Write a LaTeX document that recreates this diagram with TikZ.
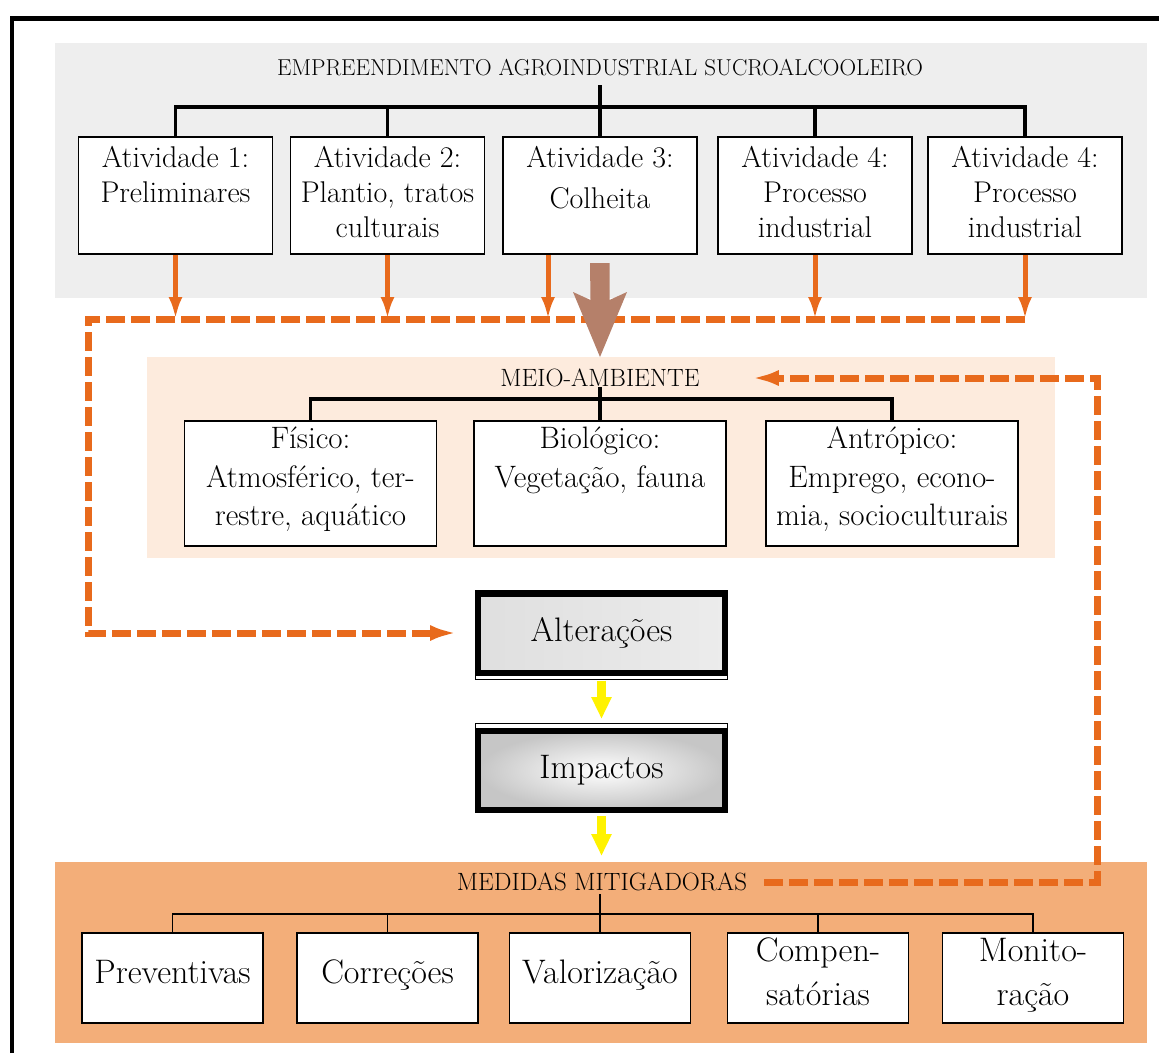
\documentclass[tikz,border=0pt]{standalone}
\usepackage{fontspec}
\usetikzlibrary{arrows.meta}
\definecolor{orng}{RGB}{232,106,28}
\definecolor{panelgray}{RGB}{238,238,238}
\definecolor{peach}{RGB}{253,235,221}
\definecolor{salmon}{RGB}{243,174,121}
\definecolor{brownarrow}{RGB}{181,128,106}
\begin{document}
\begin{tikzpicture}[x=1pt,y=-1pt,
  box/.style={draw=black,line width=1.6pt,fill=white,inner sep=0pt,align=center},
  topbox/.style={box,minimum width=194pt,minimum height=117pt,text depth=8pt,font=\fontsize{30}{35}\selectfont},
  meiobox/.style={box,minimum width=252pt,minimum height=125pt,text depth=14pt,font=\fontsize{31}{38.5}\selectfont},
  medbox/.style={box,minimum width=181pt,minimum height=90pt,text depth=13pt,font=\fontsize{34}{44}\selectfont},
  ttl/.style={inner sep=0pt,font=\fontsize{25}{29}\selectfont},
  altbox/.style={draw=black,line width=6pt,inner sep=0pt,minimum width=247pt,minimum height=79pt,font=\fontsize{34}{40}\selectfont},
  tree/.style={line width=3.5pt},
  thintree/.style={line width=1.8pt},
  oarrow/.style={draw=orng,line width=5pt,-{Latex[length=22pt,width=14pt]}},
  odash/.style={draw=orng,line width=7pt,dash pattern=on 19pt off 6pt,line join=miter},
  yarrow/.style={draw=yellow,line width=9pt,-{Triangle[length=22pt,width=19pt]}}
]
\useasboundingbox (0,0) rectangle (1159,1053);
% panels
\fill[panelgray] (55,43) rectangle (1147,298);
\fill[peach] (147,357) rectangle (1055,558);
\fill[salmon] (55,862) rectangle (1147,1043);
% frame
\draw[line width=4.5pt,line join=miter] (11.75,1053) -- (11.75,18.5) -- (1159,18.5);

% titles
\node[ttl,font=\fontsize{23}{27}\selectfont] (etitle) at (600,68) {EMPREENDIMENTO AGROINDUSTRIAL SUCROALCOOLEIRO};
\node[ttl] (mtitle) at (600,378) {MEIO-AMBIENTE};
\node[ttl] (dtitle) at (602,882) {MEDIDAS MITIGADORAS};

% top boxes
\node[topbox] (b1) at (175.5,195.5) {Atividade 1:\\Preliminares\\\phantom{X}};
\node[topbox] (b2) at (387.5,195.5) {Atividade 2:\\Plantio, tratos\\culturais};
\node[topbox] (b3) at (600,195.5) {Atividade 3:\\[6pt]Colheita\\[-6pt]\phantom{X}};
\node[topbox] (b4) at (815,195.5) {Atividade 4:\\Processo\\industrial};
\node[topbox] (b5) at (1025,195.5) {Atividade 4:\\Processo\\industrial};

% meio boxes
\node[meiobox] (fi) at (310.5,483.5) {Físico:\\Atmosférico, ter-\\restre, aquático};
\node[meiobox] (bi) at (600,483.5) {Biológico:\\Vegetação, fauna\\\phantom{X}};
\node[meiobox] (an) at (892,483.5) {Antrópico:\\Emprego, econo-\\mia, socioculturais};

% medidas boxes
\node[medbox] (pr) at (172.5,978) {Preventivas};
\node[medbox] (co) at (387.5,978) {Correções};
\node[medbox] (va) at (600,978) {Valorização};
\node[medbox] (cp) at (818,978) {Compen-\\satórias};
\node[medbox] (mo) at (1033,978) {Monito-\\ração};

% trees
\draw[tree] (b3.north) -- ++(0,-51);
\draw[tree] (b1.north) -- ++(0,-29) -| (b5.north);
\draw[tree] (b2.north) -- ++(0,-29);
\draw[tree] (b4.north) -- ++(0,-29);

\draw[tree] (bi.north) -- ++(0,-33);
\draw[tree] (fi.north) -- ++(0,-21) -| (an.north);

\draw[thintree] (va.north) -- ++(0,-38);
\draw[thintree] (pr.north) -- ++(0,-18) -| (mo.north);
\draw[thintree] (co.north) -- ++(0,-18);
\draw[thintree] (cp.north) -- ++(0,-18);

% alteracoes / impactos
\draw[line width=1pt] (475.5,590.5) rectangle (727.5,679.5);
\node[altbox,left color=gray!25,middle color=white,right color=gray!15] (alt) at (601.5,633) {Alterações};
\draw[line width=1pt] (475.5,723.5) rectangle (727.5,812.5);
\node[altbox,inner color=white,outer color=gray!45] (imp) at (601.5,770.5) {Impactos};

% orange arrows
\coordinate (dL) at (88,319);
\coordinate (rc) at (1097,0);
\coordinate (yend) at (601.5,856);
\foreach \n in {b1,b2,b4,b5}{\draw[oarrow] (\n.south) -- (\n.south |- dL);}
\draw[oarrow] ([xshift=-52pt]b3.south) -- ([xshift=-52pt]b3.south |- dL);

% dashed feedback lines
\draw[odash,-{Latex[length=27pt,width=16pt]}] (b5.south |- dL) -- (dL) |- ([xshift=-18pt]alt.west);
\draw[odash,-{Latex[length=27pt,width=16pt]}] ([xshift=17pt]dtitle.east) -| (rc |- mtitle.east) -- ([xshift=52pt]mtitle.east);

% brown arrow
\fill[brownarrow] (590,263) -- (609.5,263) -- (609.5,300) -- (627,292) -- (600,357) -- (573,292) -- (590.5,300) -- cycle;

% yellow arrows
\draw[yarrow] ([yshift=-5pt]alt.south) -- ([yshift=9pt]imp.north);
\draw[yarrow] ([yshift=-3pt]imp.south) -- (yend);
\end{tikzpicture}
\end{document}
